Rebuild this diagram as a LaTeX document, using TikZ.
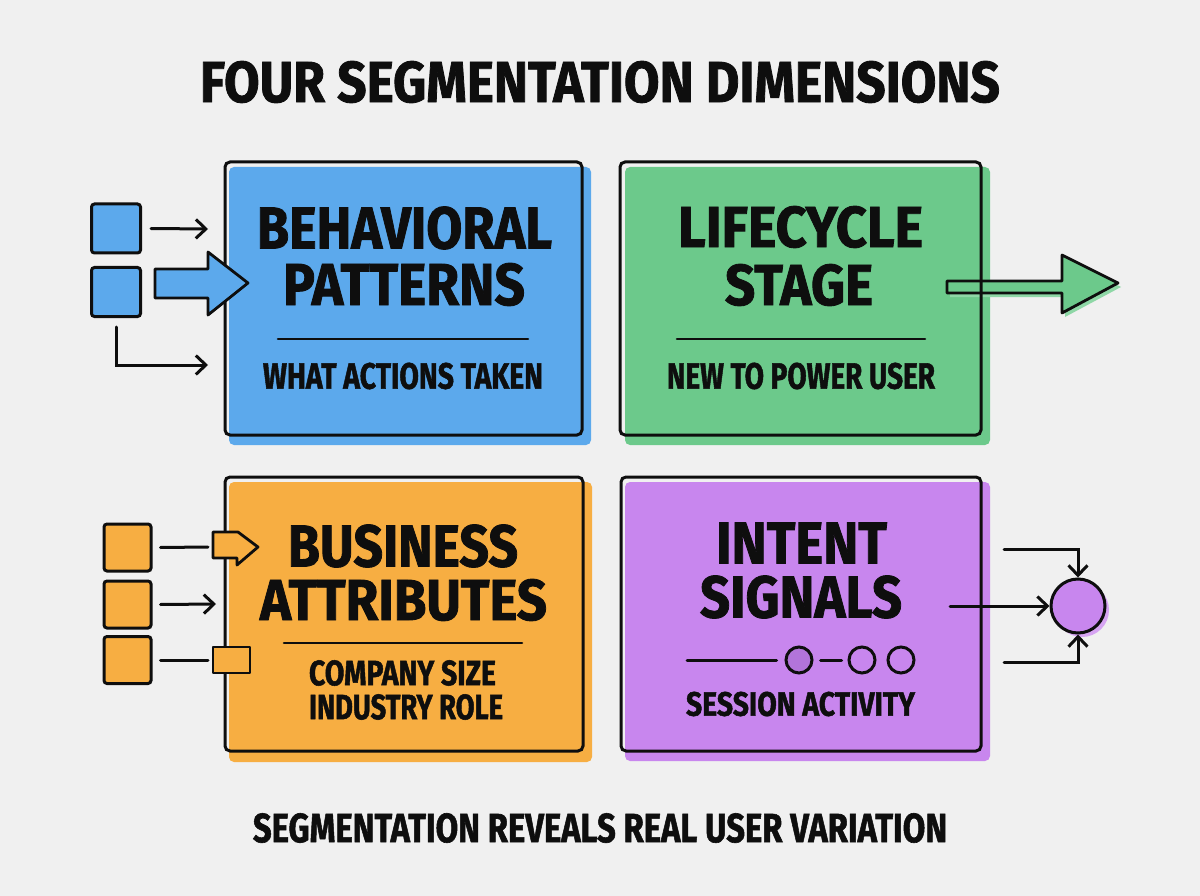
\documentclass[tikz,border=0pt]{standalone}
\usepackage{fontspec}
\usepackage{graphicx}
\setmainfont{Fira Sans}[BoldFeatures={FakeBold=1.5}]
\usetikzlibrary{arrows.meta}
\definecolor{bgc}{HTML}{F0F0F0}
\definecolor{bluec}{HTML}{5CA9EC}
\definecolor{greenc}{HTML}{6CC98B}
\definecolor{orangec}{HTML}{F7AE42}
\definecolor{purplec}{HTML}{C886EE}
\definecolor{purpled}{HTML}{B274DA}
\definecolor{purplel}{HTML}{D6A4F2}
\definecolor{greenl}{HTML}{8ED7A6}
\definecolor{inkc}{HTML}{0E0E0E}
\newcommand{\fitxt}[3]{\resizebox{#1pt}{#2pt}{\bfseries #3}}
\begin{document}
\begin{tikzpicture}[x=1pt,y=-1pt,
  txt/.style={inner sep=0pt, outer sep=0pt, text=inkc},
  frame/.style={draw=inkc, line width=3pt, rounded corners=5pt, inner sep=0pt, outer sep=0pt},
  sq/.style={draw=inkc, line width=3pt, rounded corners=3pt, minimum size=#1, inner sep=0pt},
  shp/.style={draw=inkc, line width=2.8pt, line join=round},
  ln/.style={draw=inkc, line width=3pt, line cap=round},
  arr/.style={ln, -{Straight Barb[length=10pt,width=19pt,line width=3pt]}},
  dot/.style={circle, draw=inkc, line width=3pt, minimum size=26pt, inner sep=0pt}
]
\fill[bgc] (0,0) rectangle (1200,896);
\useasboundingbox (0,0) rectangle (1200,896);

% title
\node[txt] (title) at (600,82) {\fitxt{800}{41}{FOUR SEGMENTATION DIMENSIONS}};

% box fills (offset)
\fill[bluec, rounded corners=5pt] (229,167) rectangle (591,445);
\fill[greenc, rounded corners=5pt] (625,167) rectangle (990,445);
\fill[orangec, rounded corners=5pt] (229,482) rectangle (592,762);
\fill[purplec, rounded corners=5pt] (625,482) rectangle (990,761);

% box borders
\node[frame, minimum width=357pt, minimum height=273pt] (beh) at (403.5,298.5) {};
\node[frame, minimum width=358pt, minimum height=274pt] (bus) at (404,614) {};
\node[frame, minimum width=360pt, minimum height=274pt] (int) at (801,614) {};

% green arrow (under the border)
\fill[greenl] (950,285) -- (1065,285) -- (1065,259) -- (1121,287) -- (1065,317) -- (1065,297) -- (950,297) -- cycle;
\draw[shp, fill=greenc] (947,281) -- (1062,281) -- (1062,255) -- (1118,283) -- (1062,313) -- (1062,293) -- (947,293) -- cycle;
\node[frame, minimum width=361pt, minimum height=273pt] (life) at (800.5,298.5) {};

% box texts
\node[txt] (b1) at (404.5,228) {\fitxt{295}{42}{BEHAVIORAL}};
\node[txt] (b2) at (404,284.5) {\fitxt{242}{42}{PATTERNS}};
\draw[ln, line width=2.6pt] (278,339) -- (528,339);
\node[txt] (b3) at (403,376) {\fitxt{280}{26}{WHAT ACTIONS TAKEN}};

\node[txt] (l1) at (800.5,227) {\fitxt{245}{41}{LIFECYCLE}};
\node[txt] (l2) at (799,285) {\fitxt{148}{41}{STAGE}};
\draw[ln, line width=2.6pt] (677,339) -- (925,339);
\node[txt] (l3) at (801,376) {\fitxt{268}{26}{NEW TO POWER USER}};

\node[txt] (o1) at (403,546) {\fitxt{230}{42}{BUSINESS}};
\node[txt] (o2) at (403.5,600) {\fitxt{287}{41}{ATTRIBUTES}};
\draw[ln, line width=2.6pt] (284,643) -- (522,643);
\node[txt] (o3) at (402.5,673) {\fitxt{187}{25}{COMPANY SIZE}};
\node[txt] (o4) at (406,707) {\fitxt{194}{25}{INDUSTRY ROLE}};

\node[txt] (p1) at (801.5,543) {\fitxt{171}{41}{INTENT}};
\node[txt] (p2) at (801,597) {\fitxt{202}{42}{SIGNALS}};
\node[txt] (p3) at (800.5,704) {\fitxt{229}{24}{SESSION ACTIVITY}};

% session dots
\coordinate (dl) at (687,660);
\node[dot, fill=purpled] (d1) at (799,660) {};
\node[dot] (d2) at (862,660) {};
\node[dot] (d3) at (901,660) {};
\draw[ln, shorten >=8pt] (dl) -- (d1);
\draw[ln, shorten <=7pt, shorten >=6pt] (d1) -- (d2);

% blue left side
\node[sq=49pt, fill=bluec] (bs1) at (116,228.5) {};
\node[sq=49pt, fill=bluec] (bs2) at (116,292) {};
\coordinate (be1) at (208,229);
\coordinate (be3) at (208,365);
\draw[arr] ([xshift=9pt]bs1.east) -- (be1);
\draw[arr] ([yshift=-9pt]bs2.south) |- (be3);
\draw[shp, fill=bluec] (155,269) -- (208,269) -- (208,252) -- (248,283) -- (208,315) -- (208,298) -- (155,298) -- cycle;

% orange left side
\node[sq=47pt, fill=orangec] (os1) at (127.5,547.5) {};
\node[sq=47pt, fill=orangec] (os2) at (127.5,604.5) {};
\node[sq=47pt, fill=orangec] (os3) at (127.5,660) {};
\coordinate (oe1) at (208,547);
\coordinate (oe2) at (216,604);
\coordinate (oe3) at (208,660);
\draw[ln] ([xshift=8pt]os1.east) -- (oe1);
\draw[arr] ([xshift=8pt]os2.east) -- (oe2);
\draw[ln] ([xshift=8pt]os3.east) -- (oe3);
\draw[shp, fill=orangec] (213,532) -- (238,532) -- (258,547) -- (237,565) -- (237,558) -- (213,558) -- cycle;
\draw[shp, fill=orangec] (213,647) rectangle (250,673);

% purple right side
\fill[purplel] (1082,610) circle (27pt);
\node[circle, draw=inkc, line width=3pt, fill=purplec, minimum size=54pt, inner sep=0pt] (pc) at (1078,606) {};
\coordinate (pa1) at (1004,549);
\coordinate (pa2) at (950,606);
\coordinate (pa3) at (1004,662);
\draw[arr] (pa1) -| (pc.north);
\draw[arr] (pa2) -- (pc.west);
\draw[arr] (pa3) -| (pc.south);

% footer
\node[txt] (foot) at (600,828) {\fitxt{694}{29}{SEGMENTATION REVEALS REAL USER VARIATION}};
\end{tikzpicture}
\end{document}
